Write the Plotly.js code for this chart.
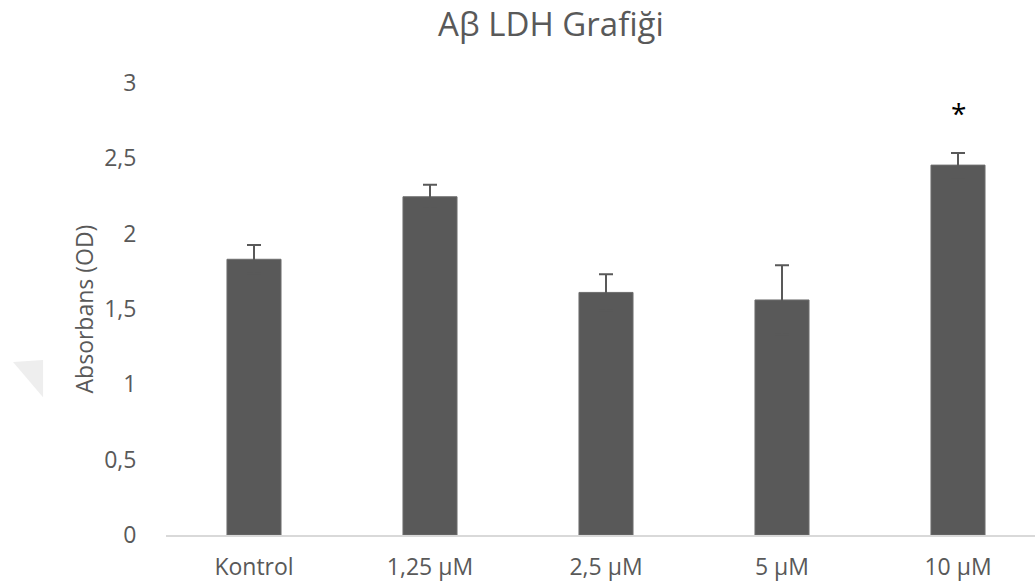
<!DOCTYPE html>
<html>
<head>
<meta charset="utf-8">
<script src="https://cdn.plot.ly/plotly-3.0.1.min.js"></script>
<style>html,body{margin:0;padding:0;background:#fff;}#chart{width:1035px;height:588px;}</style>
</head>
<body>
<div id="chart"></div>
<script>
const categories = ["Kontrol", "1,25 µM", "2,5 µM", "5 µM", "10 µM"];
const absorbance = [1.83, 2.245, 1.61, 1.56, 2.455];
const errors = [0.095, 0.08, 0.12, 0.23, 0.08];
const yTickVals = [0, 0.5, 1, 1.5, 2, 2.5, 3];
const yTickText = ["0", "0,5", "1", "1,5", "2", "2,5", "3"];
const starCategory = "10 µM";
const starValue = 2.8;

const gray = "#595959";
const font = "'Open Sans', 'Noto Sans', sans-serif";

const trace = {
  type: "bar",
  x: categories,
  y: absorbance,
  width: 0.307,
  marker: { color: gray, line: { color: "#6e6e6e", width: 1 } },
  error_y: { type: "data", array: errors, visible: true, color: gray, thickness: 2, width: 7 },
  hoverinfo: "x+y"
};

const layout = {
  width: 1035, height: 588,
  margin: { l: 166, r: 0, t: 83, b: 53 },
  paper_bgcolor: "#fff", plot_bgcolor: "#fff",
  showlegend: false,
  font: { family: font, color: gray },
  title: { text: "Aβ LDH Grafiği", font: { family: font, size: 33, color: gray }, x: 0.443, xref: "paper", xanchor: "center", y: 0.958, yanchor: "middle" },
  xaxis: {
    type: "category",
    range: [-0.5, 4.4375],
    showgrid: false, zeroline: false,
    showline: true, linecolor: "#d9d9d9", linewidth: 1.5,
    ticks: "outside", ticklen: 11, tickcolor: "rgba(0,0,0,0)",
    tickfont: { family: font, size: 23, color: gray }
  },
  yaxis: {
    range: [0, 3],
    tickvals: yTickVals, ticktext: yTickText,
    showgrid: false, zeroline: false, showline: false,
    ticks: "outside", ticklen: 24, tickcolor: "rgba(0,0,0,0)",
    tickfont: { family: font, size: 23, color: gray },
    title: { text: "Absorbans (OD)", font: { family: font, size: 23, color: gray }, standoff: 4 }
  },
  annotations: [{
    x: starCategory, y: starValue, xref: "x", yref: "y",
    text: "*", showarrow: false, font: { family: font, size: 28, color: "#000" }
  }],
  shapes: [{
    type: "path", xref: "paper", yref: "paper",
    path: "M -0.1760 0.3830 L -0.1415 0.3870 L -0.1415 0.3050 Z",
    fillcolor: "#eeeeee", line: { width: 0 }, layer: "below"
  }]
};

Plotly.newPlot("chart", [trace], layout, { displayModeBar: false, staticPlot: true });
</script>
</body>
</html>
